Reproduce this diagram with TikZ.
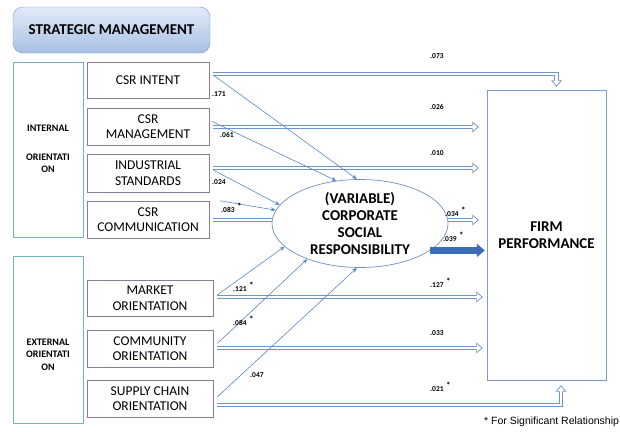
\documentclass[tikz,border=0pt]{standalone}
\usepackage{fontspec}
\setmainfont{Carlito}
\newfontfamily\notefont{Liberation Sans}
\usetikzlibrary{arrows.meta, positioning, calc, shapes.geometric}
\definecolor{boxline}{HTML}{8B7B99}
\definecolor{orientline}{HTML}{72B4C0}
\definecolor{linkblue}{HTML}{5B86C5}
\definecolor{dblblue}{HTML}{6E94CA}
\definecolor{firmline}{HTML}{7F9CC9}
\definecolor{csrline}{HTML}{7390C0}
\definecolor{bigblue}{HTML}{3C6DB6}
\definecolor{headline}{HTML}{7E98C8}
\definecolor{headtop}{HTML}{E2EAF7}
\definecolor{headbot}{HTML}{A9C0E4}
\newcommand{\sigmark}{\hspace{2.5pt}\raisebox{2.5pt}{\fontsize{9}{9}\selectfont *}}

\begin{document}
\begin{tikzpicture}[x=1pt, y=-1pt,
    var/.style={draw=boxline, fill=white, minimum width=#1, minimum height=37pt, inner sep=0pt, font=\fontsize{13.5}{15.5}\selectfont, align=center},
    var/.default=122pt,
    orient/.style={draw=orientline, minimum width=70pt, inner sep=0pt},
    orientlbl/.style={font=\fontsize{10}{12.5}\selectfont\bfseries, align=center, inner sep=0pt},
    coef/.style={font=\fontsize{7.5}{8}\selectfont\bfseries, anchor=west, inner sep=0pt},
    lnk/.style={-{Stealth[length=5pt, width=4pt]}, draw=linkblue, line width=0.6pt},
    % hollow block arrow: blue outline underneath, white core on top
    dbl/.style={draw=white, line width=2.4pt, shorten >=#1,
        -{Triangle[length=4.2pt, width=7.1pt, sep=1.4pt, line width=0pt]},
        preaction={draw=dblblue, line width=4.2pt, shorten >=#1,
            -{Triangle[length=6.5pt, width=11pt, line width=0pt]}}},
    big/.style={-{Triangle[length=8pt, width=13pt]}, draw=bigblue, line width=7pt},
]
\useasboundingbox (0,0) rectangle (620,431);

% Title box
\node[draw=headline, rounded corners=10pt, top color=headtop, bottom color=headbot, minimum width=197pt, minimum height=46pt, font=\fontsize{15}{18}\selectfont\bfseries] (strat) at (111.5,30) {STRATEGIC MANAGEMENT};

% Orientation groups
\node[orient, minimum height=175pt] (intorient) at (48,149.5) {};
\node[orientlbl] (intlbl) at (48,149) {INTERNAL\\[16pt]ORIENTATI\\ON};
\node[orient, minimum height=167pt] (extorient) at (48,339.5) {};
\node[orientlbl] (extlbl) at (48,354.5) {EXTERNAL\\ORIENTATI\\ON};

% Internal variables
\node[var, minimum height=36pt] (intent) at (148,80) {CSR INTENT};
\node[var] (mgmt) at (148,126.5) {CSR\\MANAGEMENT};
\node[var, minimum height=38pt] (indstd) at (148,173) {INDUSTRIAL\\STANDARDS};
\node[var] (comm) at (148,219.5) {CSR\\COMMUNICATION};

% External variables
\node[var=126pt, minimum height=36pt] (market) at (150,298) {MARKET\\ORIENTATION};
\node[var=126pt] (community) at (150,348.5) {COMMUNITY\\ORIENTATION};
\node[var=126pt] (supply) at (150,398.5) {SUPPLY CHAIN\\ORIENTATION};

% Outcome
\node[draw=firmline, minimum width=119pt, minimum height=290pt, font=\fontsize{15}{17}\selectfont\bfseries, align=center] (firm) at (546.5,235) {FIRM\\PERFORMANCE};

% Direct paths to firm performance
\coordinate (s-int) at ([xshift=4pt, yshift=6pt]intent.east);
\coordinate (s-mgt) at ([xshift=4pt, yshift=-0.5pt]mgmt.east);
\coordinate (s-ind) at ([xshift=4pt, yshift=5pt]indstd.east);
\coordinate (s-com) at ([xshift=4pt, yshift=-0.5pt]comm.east);
\coordinate (s-mkt) at ([xshift=4pt, yshift=1pt]market.east);
\coordinate (s-cty) at ([xshift=4pt, yshift=0.5pt]community.east);
\coordinate (s-sup) at ([xshift=4pt, yshift=-6.5pt]supply.east);

\draw[dbl=3pt] (s-int) -| ([xshift=10pt]firm.north);
\draw[dbl=8pt] (s-mgt) -- (s-mgt -| firm.west);
\draw[dbl=8pt] (s-ind) -- (s-ind -| firm.west);
\draw[dbl=8pt] (s-com) -- (s-com -| firm.west);
\draw[dbl=4pt] (s-mkt) -- (s-mkt -| firm.west);
\draw[dbl=4pt] (s-cty) -- (s-cty -| firm.west);
\draw[dbl=5pt] (s-sup) -| ([xshift=14.5pt]firm.south);

% Mediator
\node[ellipse, draw=csrline, fill=white, line width=0.7pt, minimum width=176pt, minimum height=83pt, inner sep=0pt, font=\fontsize{15}{17}\selectfont\bfseries, align=center] (csr) at (360,223.5) {(VARIABLE)\\CORPORATE\\SOCIAL\\RESPONSIBILITY};

% Paths to the mediator
\draw[lnk] ([xshift=4pt, yshift=5pt]intent.east) -- (csr.94);
\draw[lnk] ([xshift=3pt, yshift=5pt]mgmt.east) -- (csr.119);
\draw[lnk] ([xshift=4pt, yshift=3pt]indstd.east) -- (csr.167);
\draw[lnk] ([xshift=11pt]comm.north east) -- (csr.171);
\draw[lnk] ([xshift=4pt, yshift=3pt]market.east) -- (csr.197);
\draw[lnk] ([xshift=4pt, yshift=5pt]community.east) -- (csr.214);
\draw[lnk] ([xshift=4pt, yshift=1.5pt]supply.east) -- (csr.266);
\draw[big, shorten >=2pt] (csr.339) -- (csr.339 -| firm.west);

% Coefficients
\node[coef] (c-int-f) at (430,56) {.073};
\node[coef] (c-mgt-f) at (430,107) {.026};
\node[coef] (c-ind-f) at (430,153) {.010};
\node[coef] (c-com-f) at (445,212) {.034\sigmark};
\node[coef] (c-csr-f) at (443,237) {.039\sigmark};
\node[coef] (c-mkt-f) at (430,283) {.127\sigmark};
\node[coef] (c-cty-f) at (430,333) {.033};
\node[coef] (c-sup-f) at (430,387) {.021\sigmark};
\node[coef] (c-int-c) at (212,94) {.171};
\node[coef] (c-mgt-c) at (220,135) {.061};
\node[coef] (c-ind-c) at (212,182) {.024};
\node[coef] (c-com-c) at (221,208) {.083\sigmark};
\node[coef] (c-mkt-c) at (233,287) {.121\sigmark};
\node[coef] (c-cty-c) at (233,321) {.084\sigmark};
\node[coef] (c-sup-c) at (250,375) {.047};

% Footnote
\node[font=\notefont\fontsize{10.5}{12}\selectfont, anchor=west, inner sep=0pt] (note) at (484,422) {* For Significant Relationship};
\end{tikzpicture}
\end{document}
